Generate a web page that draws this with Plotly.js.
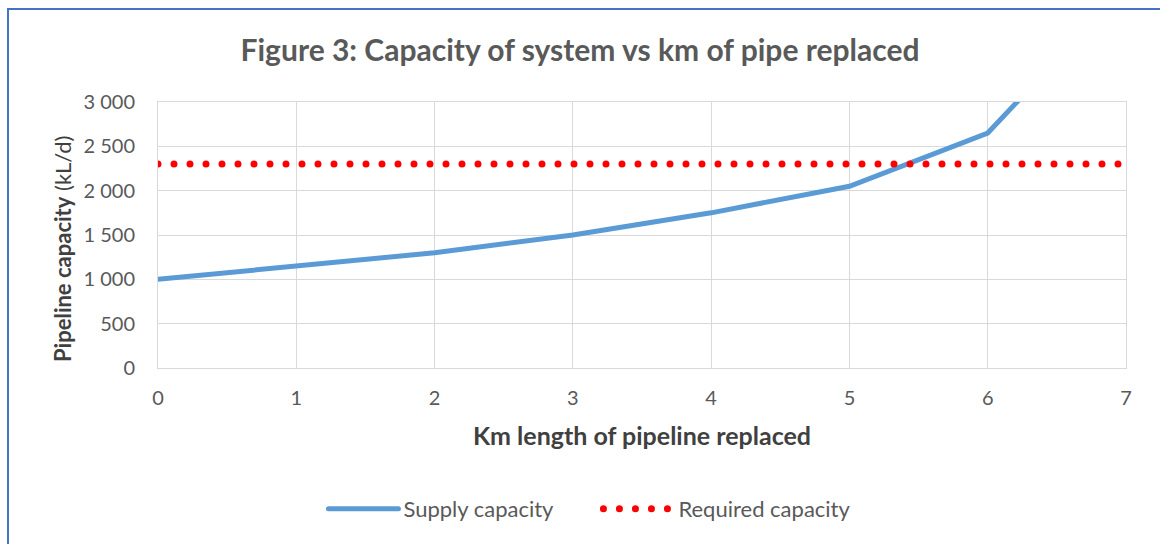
<!DOCTYPE html>
<html>
<head>
<meta charset="utf-8">
<script src="https://cdn.plot.ly/plotly-3.0.1.min.js"></script>
<style>
  html, body { margin: 0; padding: 0; background: #fff; }
  #frame { position: absolute; left: 7px; top: 8px; width: 1160px; height: 544px;
           border-left: 2px solid #4472C4; border-top: 2px solid #4472C4; box-sizing: border-box; pointer-events: none; z-index: 5; }
  #chart { width: 1160px; height: 544px; }
  .js-line { stroke-linecap: round; }
  .legendlines path { stroke-linecap: round; }
</style>
</head>
<body>
<div id="frame"></div>
<div id="chart"></div>
<script>
// Data
const kmReplaced = [0, 1, 2, 3, 4, 5, 6, 7];
const supplyCapacity = [1000, 1150, 1300, 1500, 1750, 2050, 2650, 4300];
const requiredKm = [0, 7];
const requiredCapacity = [2300, 2300];
const yTickVals = [0, 500, 1000, 1500, 2000, 2500, 3000];
const yTickText = ['0', '500', '1 000', '1 500', '2 000', '2 500', '3 000'];
const xTickVals = [0, 1, 2, 3, 4, 5, 6, 7];

const textColor = '#595959';
const font = 'Lato, "Open Sans", sans-serif';

const traces = [
  {
    x: kmReplaced, y: supplyCapacity, type: 'scatter', mode: 'lines',
    name: 'Supply capacity',
    line: { color: '#5B9BD5', width: 5 }
  },
  {
    x: requiredKm, y: requiredCapacity, type: 'scatter', mode: 'lines',
    name: 'Required capacity',
    line: { color: '#FF0000', width: 7, dash: '0px,16px' }
  }
];

const layout = {
  width: 1160, height: 544,
  margin: { l: 158, r: 34, t: 102, b: 176 },
  paper_bgcolor: '#ffffff', plot_bgcolor: '#ffffff',
  font: { family: font, color: textColor, size: 20 },
  title: {
    text: '<b>Figure 3: Capacity of system vs km of pipe replaced</b>',
    font: { family: font, size: 30, color: textColor },
    x: 0.5, xanchor: 'center', y: 0.908, yanchor: 'middle'
  },
  xaxis: {
    range: [0, 7], tickvals: xTickVals, ticktext: xTickVals.map(String),
    showgrid: true, gridcolor: '#D9D9D9', gridwidth: 1,
    showline: true, linecolor: '#D9D9D9', linewidth: 1, mirror: true,
    zeroline: false, ticks: '', ticklen: 0, ticklabelstandoff: 12,
    tickfont: { size: 20, color: textColor, family: font },
    title: { text: '<b>Km length of pipeline replaced</b>', font: { size: 25, color: '#404040', family: font }, standoff: 19 }
  },
  yaxis: {
    range: [0, 3000], tickvals: yTickVals, ticktext: yTickText,
    showgrid: true, gridcolor: '#D9D9D9', gridwidth: 1,
    showline: true, linecolor: '#D9D9D9', linewidth: 1, mirror: true,
    zeroline: false, ticks: '', ticklen: 0, ticklabelstandoff: 18,
    tickfont: { size: 20, color: textColor, family: font }
  },
  annotations: [{
    text: '<b>Pipeline capacity</b> (kL/d)',
    xref: 'paper', yref: 'paper', x: -0.0992, y: 0.451,
    xanchor: 'center', yanchor: 'middle', textangle: -90, showarrow: false,
    font: { size: 22, color: '#404040', family: font }
  }],
  showlegend: true,
  legend: {
    orientation: 'h', x: 0.455, xanchor: 'center', y: -0.53, yanchor: 'middle',
    font: { size: 22, color: textColor, family: font },
    itemwidth: 70, entrywidth: 190, entrywidthmode: 'pixels', tracegroupgap: 0
  }
};

Plotly.newPlot('chart', traces, layout, { displayModeBar: false, staticPlot: true });
</script>
</body>
</html>
